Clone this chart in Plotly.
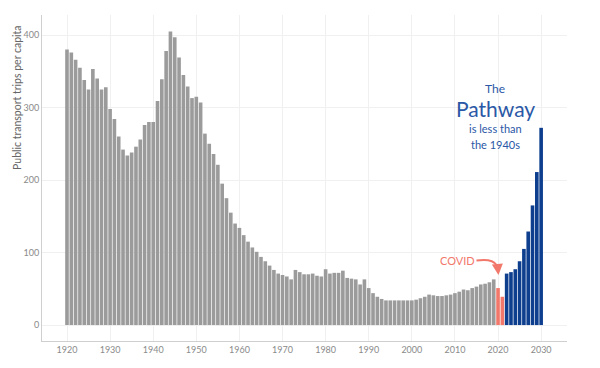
import plotly.graph_objects as go

# Historical public transport trips per capita (1920-2019)
history_years = list(range(1920, 2020))
history_values = [
    380, 376, 366, 355, 338, 325, 353, 340, 325, 328,
    298, 284, 260, 242, 234, 238, 246, 256, 276, 280,
    280, 309, 339, 378, 405, 397, 369, 345, 329, 313,
    315, 307, 264, 250, 236, 221, 195, 175, 155, 140,
    134, 124, 115, 107, 101, 94, 88, 82, 76, 71,
    69, 67, 63, 76, 73, 70, 70, 71, 68, 67,
    77, 71, 72, 72, 75, 65, 64, 63, 56, 63,
    51, 44, 39, 36, 34, 34, 34, 34, 34, 34,
    34, 35, 37, 39, 42, 41, 40, 40, 41, 42,
    44, 46, 49, 48, 51, 53, 56, 57, 59, 63,
]
# COVID years
covid_years = [2020, 2021]
covid_values = [51, 39]
# The Pathway (2022-2030)
pathway_years = list(range(2022, 2031))
pathway_values = [71, 73, 77, 88, 105, 129, 165, 211, 272]

x_tick_vals = list(range(1920, 2031, 10))
y_tick_vals = [0, 100, 200, 300, 400]

GRAY = "#9b9b9b"
RED = "#f2786b"
BLUE = "#0e3f8f"
FONT = "Lato"

fig = go.Figure()
for xs, ys, col in [(history_years, history_values, GRAY),
                    (covid_years, covid_values, RED),
                    (pathway_years, pathway_values, BLUE)]:
    fig.add_trace(go.Bar(x=xs, y=ys, marker=dict(color=col, line=dict(width=0)),
                         width=0.84, showlegend=False, hoverinfo="x+y"))

ann_color = "#2a58a6"
ann_x = 2019.3
fig.add_annotation(x=ann_x, y=326, xref="x", yref="y", text="The", showarrow=False,
                   font=dict(family=FONT, size=12, color=ann_color))
fig.add_annotation(x=ann_x, y=299, xref="x", yref="y", text="Pathway", showarrow=False,
                   font=dict(family=FONT, size=21, color=ann_color))
fig.add_annotation(x=ann_x, y=270.5, xref="x", yref="y", text="is less than", showarrow=False,
                   font=dict(family=FONT, size=11, color=ann_color))
fig.add_annotation(x=ann_x, y=248.5, xref="x", yref="y", text="the 1940s", showarrow=False,
                   font=dict(family=FONT, size=11, color=ann_color))

# COVID label and curved arrow
fig.add_annotation(x=2010.6, y=89, xref="x", yref="y", text="COVID", showarrow=False,
                   font=dict(family=FONT, size=11, color=RED))
fig.add_shape(type="path", xref="x", yref="y",
              path="M 2015.0,89 Q 2019.6,93 2019.95,77",
              line=dict(color=RED, width=2))
fig.add_annotation(x=2020.1, y=69, ax=2019.95, ay=78, xref="x", yref="y",
                   axref="x", ayref="y", text="", showarrow=True,
                   arrowhead=2, arrowsize=1.1, arrowwidth=2, arrowcolor=RED)

# Y axis title (placed toward the top, as in the original)
fig.add_annotation(x=-0.048, y=0.748, xref="paper", yref="paper",
                   text="Public transport trips per capita", textangle=-90,
                   showarrow=False, xanchor="center", yanchor="middle",
                   font=dict(family=FONT, size=10.5, color="#666666"))

# The page body adds an 8px offset, so the figure is sized to fit the window.
fig.update_layout(
    width=592, height=360,
    margin=dict(l=34, r=33, t=7, b=27),
    paper_bgcolor="white", plot_bgcolor="white",
    bargap=0.16,
    font=dict(family=FONT),
    xaxis=dict(range=[1914.2, 2036], tickvals=x_tick_vals, showgrid=True,
               gridcolor="#f0f0f0", gridwidth=1, zeroline=False, automargin=False,
               showline=True, linecolor="#cfcfcf", linewidth=1,
               tickfont=dict(family=FONT, size=9, color="#8a8a8a"), ticks=""),
    yaxis=dict(range=[-22, 427.6], tickvals=y_tick_vals, showgrid=True,
               gridcolor="#f0f0f0", gridwidth=1, zeroline=False, automargin=False,
               showline=True, linecolor="#cfcfcf", linewidth=1,
               tickfont=dict(family=FONT, size=9, color="#8a8a8a"), ticks=""),
)

fig.write_html("out.html")
